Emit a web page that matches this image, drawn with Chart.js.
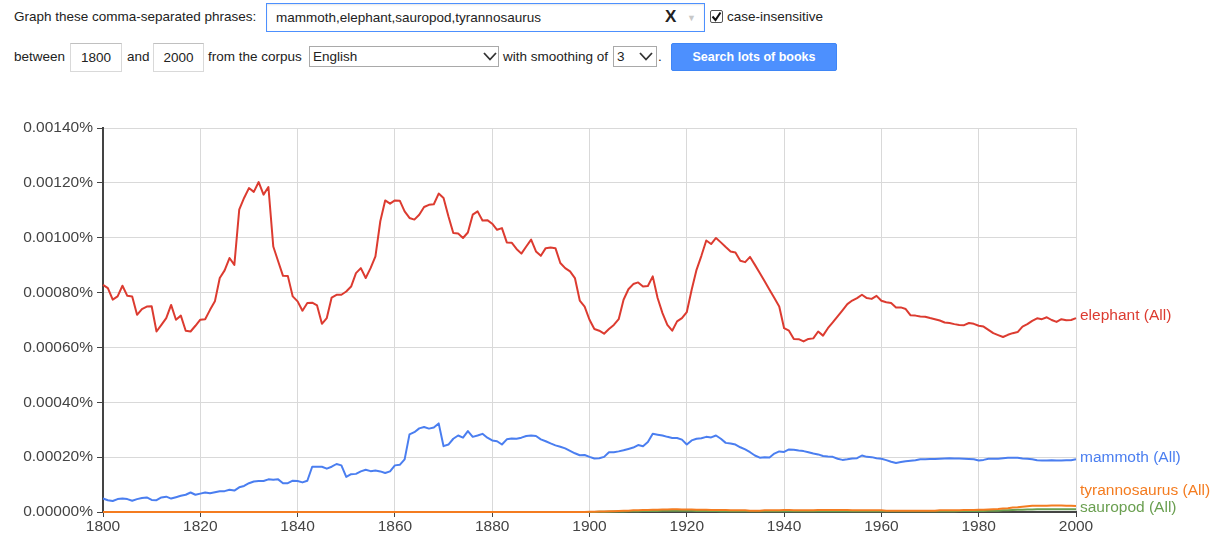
<!DOCTYPE html>
<html>
<head>
<meta charset="utf-8">
<script src="https://cdn.jsdelivr.net/npm/chart.js@4/dist/chart.umd.min.js"></script>
<style>
  html, body { margin: 0; padding: 0; background: #fff; }
  body { width: 1218px; height: 535px; overflow: hidden; position: relative;
         font-family: "Liberation Sans", Arial, sans-serif; font-size: 13.5px; color: #222; }
  .t { position: absolute; white-space: nowrap; line-height: 16px; }
  .box { position: absolute; box-sizing: border-box; background: #fff; }
  .inp { border: 1px solid #d9d9d9; border-top-color: #c0c0c0; text-align: center; line-height: 27px; }
  .sel { border: 1px solid #a9a9a9; line-height: 19px; padding-left: 3px; }
  .chev { position: absolute; top: 5px; }
  #chartWrap { position: absolute; left: 0; top: 90px; width: 1218px; height: 445px; }
</style>
</head>
<body>
  <!-- row 1 -->
  <div class="t" style="left:14px; top:9px;">Graph these comma-separated phrases:</div>
  <div class="box" style="left:266px; top:3px; width:439px; height:29px; border:1px solid #4d90fe; box-shadow: inset 0 1px 2px rgba(0,0,0,0.1);">
    <div class="t" style="left:9px; top:6px;">mammoth,elephant,sauropod,tyrannosaurus</div>
    <div class="t" style="left:398px; top:5px; font-size:17px; font-weight:bold; color:#222;">X</div>
    <div class="t" style="left:420px; top:6px; font-size:9px; color:#c8c8c8;">&#9660;</div>
  </div>
  <div class="box" style="left:710px; top:10px; width:13px; height:13px; border:1px solid #555; border-radius:2px;">
    <svg width="11" height="11" style="position:absolute;left:0;top:0"><polyline points="1.5,5.5 4.5,9 9.5,1.5" fill="none" stroke="#111" stroke-width="2"/></svg>
  </div>
  <div class="t" style="left:727px; top:9px;">case-insensitive</div>

  <!-- row 2 -->
  <div class="t" style="left:14px; top:49px;">between</div>
  <div class="box inp" style="left:70px; top:43px; width:52px; height:29px;">1800</div>
  <div class="t" style="left:127px; top:49px;">and</div>
  <div class="box inp" style="left:153px; top:43px; width:51px; height:29px;">2000</div>
  <div class="t" style="left:208px; top:49px;">from the corpus</div>
  <div class="box sel" style="left:309px; top:46px; width:190px; height:21px;">English
    <svg class="chev" width="14" height="9" style="left:173px;"><polyline points="1,1 7,7.5 13,1" fill="none" stroke="#333" stroke-width="1.8"/></svg>
  </div>
  <div class="t" style="left:503px; top:49px;">with smoothing of</div>
  <div class="box sel" style="left:613px; top:46px; width:44px; height:21px;">3
    <svg class="chev" width="14" height="9" style="left:25px;"><polyline points="1,1 7,7.5 13,1" fill="none" stroke="#333" stroke-width="1.8"/></svg>
  </div>
  <div class="t" style="left:658px; top:49px;">.</div>
  <div class="box" style="left:671px; top:43px; width:166px; height:28px; background:#4d90fe; border:1px solid #3f86f6; border-radius:2px; color:#fff; font-weight:bold; font-size:12.5px; text-align:center; line-height:26px;">Search lots of books</div>

  <div id="chartWrap"><canvas id="c" width="1218" height="445"></canvas></div>

<script>
// ---- data (frequencies in units of 0.00001 %) ----
const firstYear = 1800;
const lastYear = 2000;
const xTickLabels = ["1800", "1820", "1840", "1860", "1880", "1900", "1920", "1940", "1960", "1980", "2000"];
const yTickLabels = ["0.00000%", "0.00020%", "0.00040%", "0.00060%", "0.00080%", "0.00100%", "0.00120%", "0.00140%"];
const seriesNames = ["elephant (All)", "mammoth (All)", "tyrannosaurus (All)", "sauropod (All)"];
const seriesColors = ["#dc3b30", "#4a7ef0", "#f47c20", "#6a9f50"];

const elephant = [
  82.8, 81.6, 77.4, 78.6, 82.5, 78.8, 78.6, 71.9, 74.0, 74.9,
  75.0, 65.8, 68.2, 70.7, 75.5, 70.1, 71.6, 66.1, 65.8, 67.9,
  70.1, 70.3, 73.7, 76.8, 85.3, 88.1, 92.6, 90.1, 110.2, 114.5,
  118.1, 116.7, 120.3, 115.7, 118.5, 96.8, 91.4, 86.1, 86.0, 78.6,
  76.8, 73.4, 76.2, 76.3, 75.3, 68.6, 70.7, 78.2, 79.2, 79.2,
  80.4, 82.2, 87.1, 88.9, 85.3, 88.9, 93.2, 106.0, 113.6, 112.4,
  113.6, 113.5, 109.6, 107.2, 106.6, 108.4, 111.2, 112.0, 112.2, 116.1,
  114.5, 107.8, 101.7, 101.5, 99.9, 101.9, 108.4, 109.6, 106.3, 106.4,
  105.1, 102.9, 103.5, 98.3, 98.2, 95.9, 94.2, 96.8, 99.3, 95.0,
  93.4, 96.2, 96.4, 96.2, 90.8, 88.9, 87.7, 85.3, 77.1, 74.9,
  70.1, 66.7, 66.1, 65.0, 66.7, 68.2, 70.3, 77.4, 81.2, 83.1,
  83.7, 82.2, 82.4, 85.9, 78.0, 72.5, 68.2, 66.1, 69.5, 70.7,
  72.9, 81.0, 88.3, 93.4, 99.0, 97.7, 99.9, 98.3, 96.6, 95.0,
  94.6, 91.6, 91.1, 93.0, 90.1, 87.1, 84.1, 81.0, 78.0, 74.9,
  67.0, 66.1, 63.1, 63.0, 62.2, 63.1, 63.3, 65.8, 64.3, 67.0,
  69.1, 71.3, 73.5, 75.8, 77.1, 78.0, 79.2, 78.0, 77.7, 78.8,
  77.0, 76.5, 76.2, 74.6, 74.6, 74.0, 71.7, 71.6, 71.3, 71.2,
  70.7, 70.3, 69.8, 69.1, 68.9, 68.5, 68.2, 68.1, 68.9, 68.6,
  67.9, 67.6, 66.4, 65.2, 64.5, 63.8, 64.6, 65.2, 65.6, 67.6,
  68.5, 69.7, 70.6, 70.3, 71.0, 70.0, 69.3, 70.3, 69.9, 70.0,
  70.7
];

const mammoth = [
  4.9, 4.3, 4.0, 4.7, 4.9, 4.7, 4.1, 4.7, 5.1, 5.3,
  4.4, 4.3, 5.3, 5.6, 4.9, 5.4, 5.9, 6.3, 7.1, 6.3,
  6.7, 7.1, 6.8, 7.2, 7.6, 7.6, 8.1, 7.8, 9.0, 9.5,
  10.5, 11.1, 11.3, 11.3, 11.9, 11.8, 11.9, 10.5, 10.5, 11.4,
  11.3, 10.8, 11.4, 16.5, 16.5, 16.5, 15.8, 16.5, 17.5, 17.0,
  12.8, 13.8, 13.9, 14.8, 15.4, 14.9, 15.1, 14.8, 14.2, 14.8,
  17.0, 17.2, 19.2, 28.3, 29.1, 30.5, 31.0, 30.4, 30.8, 32.3,
  24.0, 24.6, 26.7, 27.9, 27.1, 29.5, 27.4, 27.9, 28.5, 27.1,
  26.1, 25.8, 24.6, 26.5, 26.8, 26.7, 27.1, 27.7, 27.9, 27.7,
  26.5, 25.8, 25.0, 24.3, 23.8, 23.2, 22.3, 21.4, 20.7, 20.8,
  20.1, 19.5, 19.6, 20.1, 21.8, 21.8, 22.1, 22.5, 23.0, 23.5,
  24.4, 24.0, 25.5, 28.5, 28.2, 27.9, 27.4, 27.0, 27.0, 26.4,
  24.6, 26.1, 26.7, 26.9, 27.4, 27.2, 27.9, 26.7, 25.2, 25.0,
  24.6, 23.6, 22.8, 21.8, 20.6, 19.8, 20.0, 19.9, 21.3, 22.1,
  21.9, 22.8, 22.7, 22.4, 22.2, 21.8, 21.3, 21.0, 20.4, 20.2,
  20.1, 19.4, 19.0, 19.2, 19.5, 19.6, 20.6, 20.1, 20.0, 19.6,
  19.4, 18.9, 18.3, 17.9, 18.2, 18.5, 18.7, 18.9, 19.2, 19.2,
  19.3, 19.3, 19.4, 19.5, 19.6, 19.5, 19.5, 19.4, 19.3, 19.2,
  18.8, 19.0, 19.4, 19.4, 19.4, 19.6, 19.8, 19.8, 19.8, 19.5,
  19.4, 19.2, 18.9, 18.8, 18.8, 18.9, 18.8, 18.8, 18.9, 18.9,
  19.2
];

const tyrannosaurus = [
  0, 0, 0, 0, 0, 0, 0, 0, 0, 0,
  0, 0, 0, 0, 0, 0, 0, 0, 0, 0,
  0, 0, 0, 0, 0, 0, 0, 0, 0, 0,
  0, 0, 0, 0, 0, 0, 0, 0, 0, 0,
  0, 0, 0, 0, 0, 0, 0, 0, 0, 0,
  0, 0, 0, 0, 0, 0, 0, 0, 0, 0,
  0, 0, 0, 0, 0, 0, 0, 0, 0, 0,
  0, 0, 0, 0, 0, 0, 0, 0, 0, 0,
  0, 0, 0, 0, 0, 0, 0, 0, 0, 0,
  0, 0, 0, 0, 0, 0, 0, 0, 0, 0,
  0.1, 0.1, 0.2, 0.2, 0.3, 0.3, 0.4, 0.5, 0.5, 0.6,
  0.6, 0.7, 0.7, 0.8, 0.8, 0.9, 0.9, 1.0, 1.0, 0.9,
  0.9, 0.9, 0.8, 0.8, 0.8, 0.7, 0.7, 0.7, 0.7, 0.6,
  0.6, 0.6, 0.6, 0.5, 0.5, 0.5, 0.6, 0.6, 0.6, 0.6,
  0.7, 0.7, 0.6, 0.6, 0.6, 0.6, 0.6, 0.7, 0.7, 0.7,
  0.7, 0.7, 0.7, 0.7, 0.6, 0.6, 0.6, 0.6, 0.6, 0.6,
  0.6, 0.5, 0.5, 0.5, 0.5, 0.5, 0.5, 0.5, 0.5, 0.5,
  0.5, 0.5, 0.6, 0.6, 0.6, 0.6, 0.6, 0.7, 0.7, 0.7,
  0.8, 0.8, 0.9, 1.0, 1.1, 1.3, 1.4, 1.6, 1.7, 1.9,
  2.1, 2.3, 2.3, 2.3, 2.3, 2.4, 2.4, 2.4, 2.3, 2.3,
  2.2
];

const sauropod = [
  0, 0, 0, 0, 0, 0, 0, 0, 0, 0,
  0, 0, 0, 0, 0, 0, 0, 0, 0, 0,
  0, 0, 0, 0, 0, 0, 0, 0, 0, 0,
  0, 0, 0, 0, 0, 0, 0, 0, 0, 0,
  0, 0, 0, 0, 0, 0, 0, 0, 0, 0,
  0, 0, 0, 0, 0, 0, 0, 0, 0, 0,
  0, 0, 0, 0, 0, 0, 0, 0, 0, 0,
  0, 0, 0, 0, 0, 0, 0, 0, 0, 0,
  0, 0, 0, 0, 0, 0, 0, 0, 0, 0,
  0, 0, 0, 0, 0, 0, 0, 0, 0, 0,
  0, 0, 0.1, 0.1, 0.1, 0.2, 0.2, 0.2, 0.3, 0.3,
  0.3, 0.4, 0.4, 0.4, 0.4, 0.5, 0.5, 0.5, 0.5, 0.5,
  0.5, 0.5, 0.4, 0.4, 0.4, 0.4, 0.4, 0.3, 0.3, 0.3,
  0.3, 0.3, 0.3, 0.3, 0.3, 0.3, 0.3, 0.3, 0.3, 0.3,
  0.3, 0.3, 0.3, 0.3, 0.3, 0.3, 0.3, 0.3, 0.3, 0.3,
  0.3, 0.3, 0.3, 0.3, 0.3, 0.3, 0.3, 0.3, 0.3, 0.3,
  0.3, 0.3, 0.3, 0.3, 0.3, 0.3, 0.3, 0.3, 0.3, 0.3,
  0.3, 0.3, 0.3, 0.3, 0.3, 0.3, 0.4, 0.4, 0.4, 0.4,
  0.4, 0.4, 0.5, 0.5, 0.5, 0.6, 0.6, 0.7, 0.8, 0.8,
  0.9, 0.9, 1.0, 1.0, 1.0, 1.0, 1.0, 1.0, 1.0, 1.0,
  1.0
];

// ---- build chart ----
const years = [];
for (let y = firstYear; y <= lastYear; y++) years.push(y);
const seriesValues = [elephant, mammoth, tyrannosaurus, sauropod];

const FONT = '"Liberation Sans", Arial, sans-serif';
Chart.defaults.font.family = FONT;

const endLabels = {
  id: 'endLabels',
  afterDatasetsDraw(chart) {
    const { ctx, chartArea, scales } = chart;
    const yS = scales.y;
    const items = chart.data.datasets.map(ds => ({
      text: ds.label, color: ds.borderColor,
      y: yS.getPixelForValue(ds.data[ds.data.length - 1].y) - 2
    }));
    items.sort((a, b) => b.y - a.y);
    // keep the lowest label just above the axis, stack others upward without overlap
    const bottomLimit = chartArea.bottom - 3;
    let limit = bottomLimit;
    for (const it of items) { if (it.y > limit) it.y = limit; limit = it.y - 16.5; }
    ctx.save();
    ctx.font = '15.5px ' + FONT;
    ctx.textBaseline = 'middle';
    ctx.textAlign = 'left';
    for (const it of items) { ctx.fillStyle = it.color; ctx.fillText(it.text, chartArea.right + 4, it.y); }
    ctx.restore();
  }
};

new Chart(document.getElementById('c'), {
  type: 'line',
  data: {
    datasets: seriesNames.map((name, i) => ({
      label: name,
      data: years.map((yr, k) => ({ x: yr, y: seriesValues[i][k] })),
      borderColor: seriesColors[i],
      backgroundColor: seriesColors[i],
      borderWidth: 2,
      pointRadius: 0,
      tension: 0,
      borderJoinStyle: 'round',
      clip: false
    }))
  },
  options: {
    responsive: false,
    animation: false,
    devicePixelRatio: 1,
    layout: { padding: { left: 0, right: 142, top: 38, bottom: 0 } },
    plugins: { legend: { display: false }, tooltip: { enabled: false } },
    scales: {
      x: {
        type: 'linear', min: firstYear, max: lastYear,
        afterFit: s => { s.height = 23; },
        afterBuildTicks: s => { s.ticks = xTickLabels.map(v => ({ value: Number(v) })); },
        ticks: { callback: (v) => String(v), color: '#444', font: { size: 15.5 }, padding: 0, maxRotation: 0, autoSkip: false },
        grid: { color: '#d9d9d9', tickColor: '#444', tickLength: 5, lineWidth: 1 },
        border: { color: '#444', width: 2 }
      },
      y: {
        min: 0, max: 140,
        afterFit: s => { s.width = 103; },
        afterBuildTicks: s => { s.ticks = yTickLabels.map((t, i) => ({ value: i * 20 })); },
        ticks: { callback: (v, i) => yTickLabels[i], color: '#444', font: { size: 15.5 }, padding: 4 },
        grid: { color: '#d9d9d9', tickColor: '#444', tickLength: 6, lineWidth: 1 },
        border: { color: '#444', width: 2 }
      }
    }
  },
  plugins: [endLabels]
});
</script>
</body>
</html>
